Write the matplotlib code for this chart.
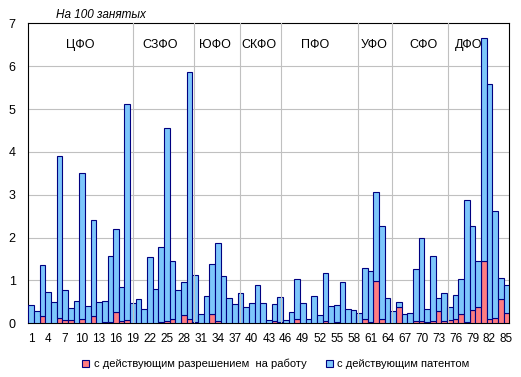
import numpy as np
import matplotlib as mpl
mpl.use('Agg')
import matplotlib.pyplot as plt
from matplotlib.patches import Patch

plt.rcParams['font.family'] = ['Liberation Sans', 'DejaVu Sans']

# regions 1..85
regions = np.arange(1, 86)

# с действующим разрешением на работу (bottom part)
permit = [0, 0, 0.16, 0, 0, 0.12, 0.07, 0.07, 0, 0.09,
          0, 0.16, 0, 0.02, 0.02, 0.26, 0.05, 0.07, 0, 0,
          0, 0, 0, 0.03, 0.06, 0.09, 0, 0.20, 0.09, 0.02,
          0, 0, 0.21, 0.06, 0, 0, 0, 0, 0, 0,
          0, 0, 0, 0.05, 0.02, 0, 0, 0.09, 0, 0,
          0, 0, 0.06, 0, 0.02, 0, 0, 0, 0, 0.09,
          0.02, 0.98, 0.09, 0, 0, 0.37, 0, 0, 0.06, 0.05,
          0.02, 0.06, 0.28, 0.05, 0.07, 0.09, 0.21, 0.02, 0.31, 0.37,
          1.45, 0.09, 0.12, 0.56, 0.23]

# с действующим патентом (stacked on top)
patent = [0.42, 0.28, 1.19, 0.73, 0.49, 3.78, 0.71, 0.29, 0.51, 3.41,
          0.40, 2.24, 0.49, 0.49, 1.54, 1.93, 0.79, 5.06, 0.47, 0.57,
          0.33, 1.54, 0.79, 1.74, 4.50, 1.36, 0.77, 0.76, 5.77, 1.11,
          0.21, 0.63, 1.17, 1.81, 1.10, 0.58, 0.45, 0.70, 0.39, 0.48,
          0.89, 0.47, 0.07, 0.39, 0.59, 0.07, 0.26, 0.94, 0.47, 0.09,
          0.63, 0.19, 1.11, 0.40, 0.40, 0.96, 0.33, 0.30, 0.23, 1.19,
          1.20, 2.08, 2.17, 0.58, 0.28, 0.12, 0.21, 0.23, 1.20, 1.93,
          0.31, 1.50, 0.30, 0.65, 0.30, 0.56, 0.82, 2.85, 1.95, 1.09,
          5.20, 5.49, 2.50, 0.49, 0.66]

okrug_names = ['ЦФО', 'СЗФО', 'ЮФО', 'СКФО', 'ПФО', 'УФО', 'СФО', 'ДФО']
okrug_label_x = [9.6, 23.8, 33.4, 41.2, 51.2, 61.6, 70.3, 78.4]
okrug_borders = [18.95, 29.85, 37.95, 45.2, 58.8, 64.7, 74.7]

blue = '#7DC6FB'
red = '#FF7C80'
edge = '#000080'
grid = '#C0C0C0'

fig = plt.figure(figsize=(5.21, 3.77), dpi=100)
ax = fig.add_axes([0.0543, 0.1424, 0.9232, 0.7956])

ax.bar(regions, permit, width=1.0, color=red, edgecolor=edge, linewidth=0.8, zorder=3)
ax.bar(regions, patent, width=1.0, bottom=permit, color=blue, edgecolor=edge,
       linewidth=0.8, zorder=3)

for y in range(1, 7):
    ax.axhline(y, color=grid, linewidth=0.8, zorder=1)
for xb in okrug_borders:
    ax.axvline(xb, color=grid, linewidth=0.8, zorder=4)

for name, xl in zip(okrug_names, okrug_label_x):
    ax.text(xl, 6.49, name, ha='center', va='center', fontsize=9, zorder=5)

ax.set_xlim(0.5, 85.5)
ax.set_ylim(0, 7)
ax.set_yticks(range(0, 8))
ax.set_xticks(regions[::3])
ax.tick_params(axis='y', length=0, pad=9, labelsize=9)
ax.tick_params(axis='x', length=0, pad=7, labelsize=8.5)
for s in ax.spines.values():
    s.set_color('black')
    s.set_linewidth(0.8)

fig.text(101 / 521, 1 - 15 / 377, 'На 100 занятых', style='italic', fontsize=8.5,
         ha='center', va='center')

handles = [Patch(facecolor=red, edgecolor=edge, linewidth=0.8),
           Patch(facecolor=blue, edgecolor=edge, linewidth=0.8)]
labels = ['с действующим разрешением  на работу', 'с действующим патентом']
fig.legend(handles, labels, loc='center', bbox_to_anchor=(276 / 521, 1 - 364 / 377),
           ncol=2, frameon=False, fontsize=8, handlelength=0.6, handleheight=0.6,
           handletextpad=0.4, columnspacing=1.8, borderpad=0)

fig.savefig('out.png', dpi=100)
